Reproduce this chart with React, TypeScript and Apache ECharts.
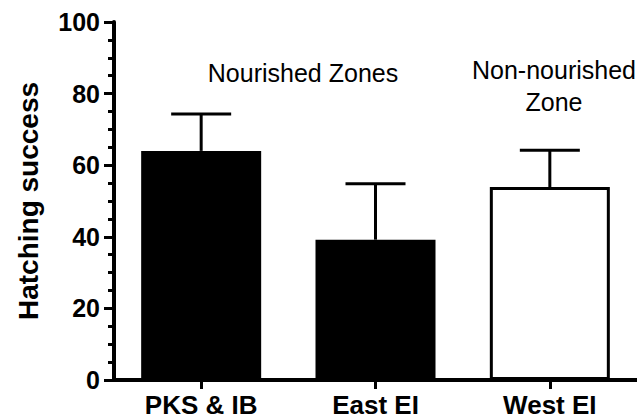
import React, { useEffect, useRef } from "react";
import * as echarts from "echarts";

const categories = ["PKS & IB", "East EI", "West EI"];
const meanValues = [64.0, 39.2, 53.9];
const upperErrors = [74.3, 54.8, 64.2];
const yTicks = { min: 0, max: 100, interval: 20 };
const yAxisTitle = "Hatching success";
const groupLabels = ["Nourished Zones", "Non-nourished\nZone"];

const FONT = "'Liberation Sans', Arial, Helvetica, sans-serif";

export default function App() {
  const ref = useRef<HTMLDivElement>(null);

  useEffect(() => {
    if (!ref.current) return;
    const chart = echarts.init(ref.current, undefined, { renderer: "svg" });

    const barData = meanValues.map((v, i) =>
      i === 2
        ? {
            value: v,
            itemStyle: { color: "#ffffff", borderColor: "#000000", borderWidth: 3 },
          }
        : { value: v, itemStyle: { color: "#000000" } }
    );

    const errData = meanValues.map((v, i) => [i, v, upperErrors[i]]);

    chart.setOption({
      animation: false,
      backgroundColor: "#ffffff",
      grid: { left: 114, right: -8, top: 22, bottom: 39, containLabel: false },
      xAxis: {
        type: "category",
        data: categories,
        boundaryGap: true,
        axisLine: { show: true, lineStyle: { color: "#000", width: 4 } },
        axisTick: {
          show: true,
          alignWithLabel: true,
          length: 9,
          lineStyle: { color: "#000", width: 3 },
        },
        axisLabel: {
          color: "#000",
          fontFamily: FONT,
          fontWeight: "bold",
          fontSize: 26,
          margin: 12,
        },
        splitLine: { show: false },
      },
      yAxis: {
        type: "value",
        min: yTicks.min,
        max: yTicks.max,
        interval: yTicks.interval,
        name: yAxisTitle,
        nameLocation: "middle",
        nameGap: 72,
        nameRotate: 90,
        nameTextStyle: {
          color: "#000",
          fontFamily: FONT,
          fontWeight: "bold",
          fontSize: 28,
        },
        axisLine: { show: true, lineStyle: { color: "#000", width: 4 } },
        axisTick: { show: true, length: 10, lineStyle: { color: "#000", width: 3 } },
        minorTick: {
          show: true,
          splitNumber: 4,
          length: 6,
          lineStyle: { color: "#000", width: 3 },
        },
        axisLabel: {
          color: "#000",
          fontFamily: FONT,
          fontWeight: "bold",
          fontSize: 25,
          margin: 14,
        },
        splitLine: { show: false },
        minorSplitLine: { show: false },
      },
      series: [
        {
          type: "bar",
          data: barData,
          barWidth: 120,
          z: 2,
        },
        {
          type: "custom",
          z: 1,
          data: errData,
          encode: { x: 0, y: 2 },
          renderItem: (params: any, api: any) => {
            const idx = api.value(0);
            const base = api.coord([idx, api.value(1)]);
            const top = api.coord([idx, api.value(2)]);
            const half = 30;
            const style = { stroke: "#000", lineWidth: 3 };
            return {
              type: "group",
              children: [
                {
                  type: "line",
                  shape: { x1: base[0], y1: base[1], x2: top[0], y2: top[1] },
                  style,
                },
                {
                  type: "line",
                  shape: { x1: top[0] - half, y1: top[1], x2: top[0] + half, y2: top[1] },
                  style,
                },
              ],
            };
          },
        },
      ],
      graphic: [
        {
          type: "text",
          x: 303,
          y: 73,
          style: {
            text: groupLabels[0],
            fill: "#000",
            font: `25px ${FONT}`,
            textAlign: "center",
            textVerticalAlign: "middle",
          },
        },
        {
          type: "text",
          x: 554,
          y: 54,
          style: {
            text: groupLabels[1],
            fill: "#000",
            font: `25px ${FONT}`,
            lineHeight: 32,
            textAlign: "center",
            textVerticalAlign: "top",
          },
        },
      ],
    });

    return () => chart.dispose();
  }, []);

  return (
    <div
      ref={ref}
      style={{ position: "fixed", left: 0, top: 0, width: 637, height: 419 }}
    />
  );
}
